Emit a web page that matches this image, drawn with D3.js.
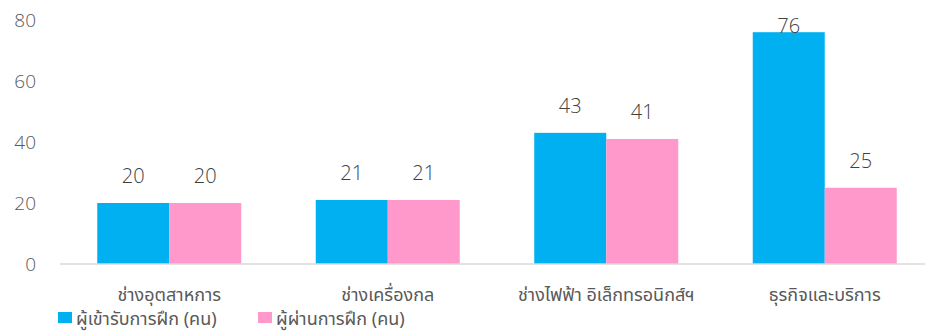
<!DOCTYPE html>
<html>
<head>
<meta charset="utf-8">
<script src="https://cdn.jsdelivr.net/npm/d3@7"></script>
<style>
  html, body { margin: 0; padding: 0; background: #fff; }
  svg { display: block; }
  text { font-family: "Noto Sans", "Noto Sans Thai", "DejaVu Sans", sans-serif; }
  .num { font-family: "Open Sans", "Noto Sans", sans-serif; font-weight: 300; }
</style>
</head>
<body>
<svg id="chart" width="925" height="331"></svg>
<script>
// Training categories and head counts
const categories = ["ช่างอุตสาหการ", "ช่างเครื่องกล", "ช่างไฟฟ้า อิเล็กทรอนิกส์ฯ", "ธุรกิจและบริการ"];
const seriesNames = ["ผู้เข้ารับการฝึก (คน)", "ผู้ผ่านการฝึก (คน)"];
const enrolled = [20, 21, 43, 76];
const passed = [20, 21, 41, 25];
const yTicks = [0, 20, 40, 60, 80];
const colors = ["#00B0F0", "#FF99CC"];

const svg = d3.select("#chart");
const plotTop = 20, plotBottom = 264, plotLeft = 60, plotRight = 934;

const x0 = d3.scaleBand().domain(categories).range([plotLeft, plotRight]).paddingInner(0).paddingOuter(0);
const groupW = 144;
const x1 = d3.scaleBand().domain([0, 1]).range([0, groupW]);
const y = d3.scaleLinear().domain([0, 80]).range([plotBottom, plotTop]);

// Y axis tick labels
const yAxis = d3.axisLeft(y).tickValues(yTicks).tickSize(0).tickPadding(0);
const yg = svg.append("g").attr("transform", "translate(36,0)").call(yAxis);
yg.select(".domain").remove();
yg.selectAll("text").attr("class", "num").attr("fill", "#595959").style("font-size", "19px");

const rows = categories.map((c, i) => ({ cat: c, vals: [enrolled[i], passed[i]] }));

const groups = svg.append("g").selectAll("g").data(rows).join("g")
  .attr("transform", d => `translate(${x0(d.cat) + (x0.bandwidth() - groupW) / 2},0)`);

groups.selectAll("rect").data(d => d.vals.map((v, k) => ({ v, k }))).join("rect")
  .attr("x", d => x1(d.k))
  .attr("width", x1.bandwidth())
  .attr("y", d => y(d.v))
  .attr("height", d => y(0) - y(d.v))
  .attr("fill", d => colors[d.k]);

// Value labels above bars, kept inside the top edge
groups.selectAll("text.val").data(d => d.vals.map((v, k) => ({ v, k }))).join("text")
  .attr("class", "val num")
  .attr("x", d => x1(d.k) + x1.bandwidth() / 2)
  .attr("y", d => Math.max(y(d.v) - 20, 33))
  .attr("text-anchor", "middle")
  .attr("fill", "#404040")
  .style("font-size", "20px")
  .text(d => d.v);

// Category axis baseline and labels
const xAxis = d3.axisBottom(x0).tickSize(0).tickPadding(0);
const xg = svg.append("g").attr("transform", `translate(0,${plotBottom})`).call(xAxis);
xg.select(".domain").attr("stroke", "#d9d9d9").attr("stroke-width", 1.5)
  .attr("d", `M${plotLeft},0H${plotRight}`);
xg.selectAll("text").attr("fill", "#595959").style("font-size", "18px")
  .attr("dy", null).attr("y", 37);

// Legend
const legend = svg.append("g");
const legendX = [58, 258];
seriesNames.forEach((name, k) => {
  legend.append("rect").attr("x", legendX[k]).attr("y", 312).attr("width", 14).attr("height", 11).attr("fill", colors[k]);
  legend.append("text").attr("x", legendX[k] + 18).attr("y", 325)
    .attr("fill", "#595959").style("font-size", "18px").text(name);
});
</script>
</body>
</html>
